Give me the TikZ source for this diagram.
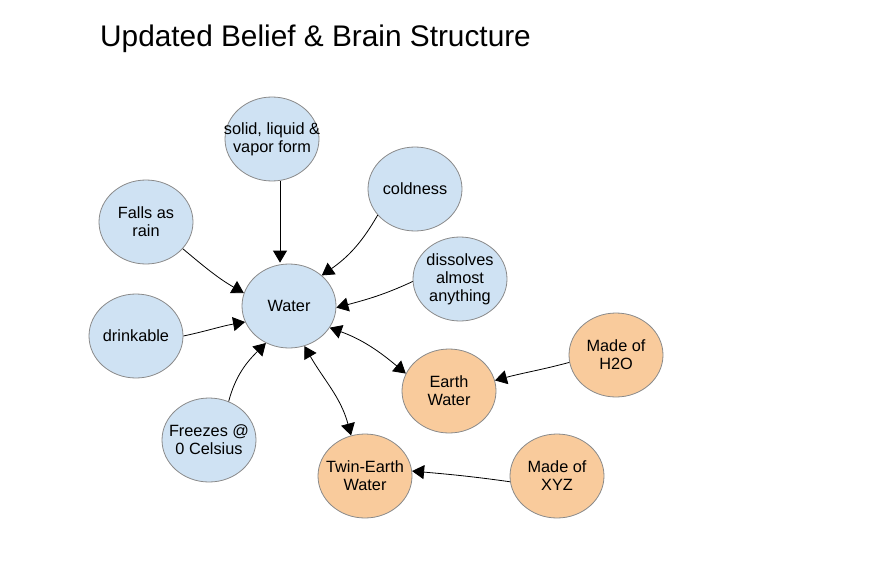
\documentclass[tikz,border=0pt]{standalone}
\usepackage{fontspec}
\setmainfont{Liberation Sans}
\usetikzlibrary{shapes.geometric,arrows.meta}
\definecolor{bluefill}{HTML}{CFE2F3}
\definecolor{orangefill}{HTML}{F9CB9C}
\definecolor{bordergray}{HTML}{8A8A8A}
\tikzset{
  belief/.style={ellipse, draw=bordergray, line width=0.8pt, minimum width=94pt, minimum height=84pt, inner sep=0pt},
  txt/.style={align=center, inner sep=0pt, font=\fontsize{16.3}{18}\selectfont},
  bluenode/.style={belief, fill=bluefill, label={[txt]center:#1}},
  orangenode/.style={belief, fill=orangefill, label={[txt]center:#1}},
  link/.style={draw=black, line width=0.8pt, -{Triangle[length=12pt,width=14pt]}},
  twolink/.style={draw=black, line width=0.8pt, {Triangle[length=12pt,width=14pt]}-{Triangle[length=12pt,width=14pt]}}
}
\begin{document}
\begin{tikzpicture}[x=1pt,y=-1pt]
\useasboundingbox[fill=white] (0,0) rectangle (885,567);
\node[anchor=base west, font=\fontsize{29.8}{34}\selectfont, inner sep=0pt] (title) at (100,47) {Updated Belief \& Brain Structure};
\node[bluenode={Water}] (water) at (289,306) {};
\node[bluenode={solid, liquid \&\\vapor form}] (solid) at (272,139) {};
\node[bluenode={coldness}] (cold) at (415,189) {};
\node[bluenode={dissolves\\almost\\anything}] (diss) at (460,279) {};
\node[bluenode={Falls as\\rain}] (rain) at (146,222) {};
\node[bluenode={drinkable}] (drink) at (136,336) {};
\node[bluenode={Freezes @\\0 Celsius}] (freeze) at (209,440) {};
\node[orangenode={Earth\\Water}] (earth) at (449,391) {};
\node[orangenode={Twin-Earth\\Water}] (twin) at (365,476) {};
\node[orangenode={Made of\\H2O}] (h2o) at (616,355) {};
\node[orangenode={Made of\\XYZ}] (xyz) at (557,476) {};
\draw[link] ([xshift=8pt]solid.south) -- ([xshift=-9pt,yshift=1pt]water.north);
\draw[link] (rain.-36) to[out=-40,in=150] (water.164);
\draw[link] (cold.215) to[out=-120,in=35] (water.43);
\draw[link] (diss.183) to[out=-155,in=15] (water.-2);
\draw[link] (drink.0) to[out=12,in=190] (water.200);
\draw[link] (freeze.63) to[out=75,in=225] (water.238);
\draw[twolink] (water.-28) to[out=-20,in=140] (earth.158);
\draw[twolink] (water.-69) to[out=-60,in=105] (twin.109);
\draw[link] (h2o.189) to[out=195,in=15] (earth.13);
\draw[link] (xyz.187) to[out=172,in=-5] (twin.6);
\end{tikzpicture}
\end{document}
